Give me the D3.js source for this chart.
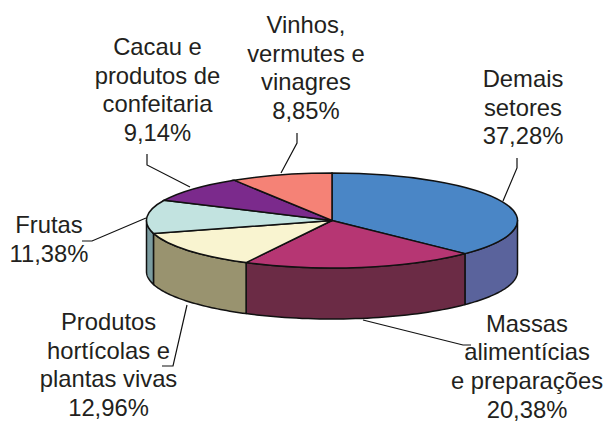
<!DOCTYPE html>
<html><head><meta charset="utf-8">
<script src="https://cdn.jsdelivr.net/npm/d3@7/dist/d3.min.js"></script>
<style>html,body{margin:0;background:#fff}svg{display:block}text{font-family:"Liberation Sans",Arial,sans-serif;font-size:23.8px;fill:#231f20}</style>
</head><body><svg width="605" height="423"></svg>
<script>
const categories=["Demais setores","Massas alimentícias e preparações","Produtos hortícolas e plantas vivas","Frutas","Cacau e produtos de confeitaria","Vinhos, vermutes e vinagres"];
const values=[37.28,20.38,12.96,11.38,9.14,8.85];
const topColors=["#4a86c6","#b63673","#f9f4d0","#c2e3e0","#7b2a8c","#f58276"];
const sideColors=["#5a639c","#6b2b45","#99936f","#7b9ca0","#4a1f55","#a0524a"];
const labelLines=[["Demais","setores","37,28%"],["Massas","alimentícias","e preparações","20,38%"],["Produtos","hortícolas e","plantas vivas","12,96%"],["Frutas","11,38%"],["Cacau e","produtos de","confeitaria","9,14%"],["Vinhos,","vermutes e","vinagres","8,85%"]];
const labelPos=[[523,87],[527,331.5],[108.5,330],[49,233],[157.5,55],[306,33]];
const leaders=[[[503,201],[517,168],[517,158]],[[363,320],[463,345],[471,345]],[[187,305],[173,366],[162,366]],[[146,218],[92,241],[82,241]],[[190,187],[147,165],[147,154]],[[281,173],[297,143],[297,133]]];
const cx=332,cy=220.5,rx=185.5,ry=47.5,depth=51;
const svg=d3.select("svg");
const arcs=d3.pie().sort(null).value(d=>d)(values);
const px=a=>cx+rx*Math.sin(a),py=a=>cy-ry*Math.cos(a);
const stroke="#111";const sw=1.5;
leaders.forEach(l=>svg.append("path").attr("d",d3.line()(l)).attr("fill","none").attr("stroke",stroke).attr("stroke-width",1.2));
const wallLine=d3.line();
arcs.forEach((d,i)=>{
  const a0=Math.max(d.startAngle,Math.PI/2),a1=Math.min(d.endAngle,Math.PI*1.5);
  if(a1<=a0)return;
  const angs=d3.range(0,41).map(k=>a0+(a1-a0)*k/40);
  const pts=angs.map(a=>[px(a),py(a)]).concat(angs.slice().reverse().map(a=>[px(a),py(a)+depth]));
  svg.append("path").attr("d",wallLine(pts)+"Z").attr("fill",sideColors[i]).attr("stroke",stroke).attr("stroke-width",sw).attr("stroke-linejoin","round");
});
const arcGen=d3.arc().innerRadius(0).outerRadius(rx);
const g=svg.append("g").attr("transform",`translate(${cx},${cy}) scale(1,${ry/rx})`);
g.selectAll("path").data(arcs).join("path").attr("d",arcGen).attr("fill",(d,i)=>topColors[i]).attr("stroke",stroke).attr("stroke-width",sw).attr("vector-effect","non-scaling-stroke");
labelLines.forEach((ls,i)=>{
  const t=svg.append("text").attr("text-anchor","middle");
  ls.forEach((s,j)=>t.append("tspan").attr("x",labelPos[i][0]).attr("y",labelPos[i][1]+j*28.7).text(s));
});
</script></body></html>
